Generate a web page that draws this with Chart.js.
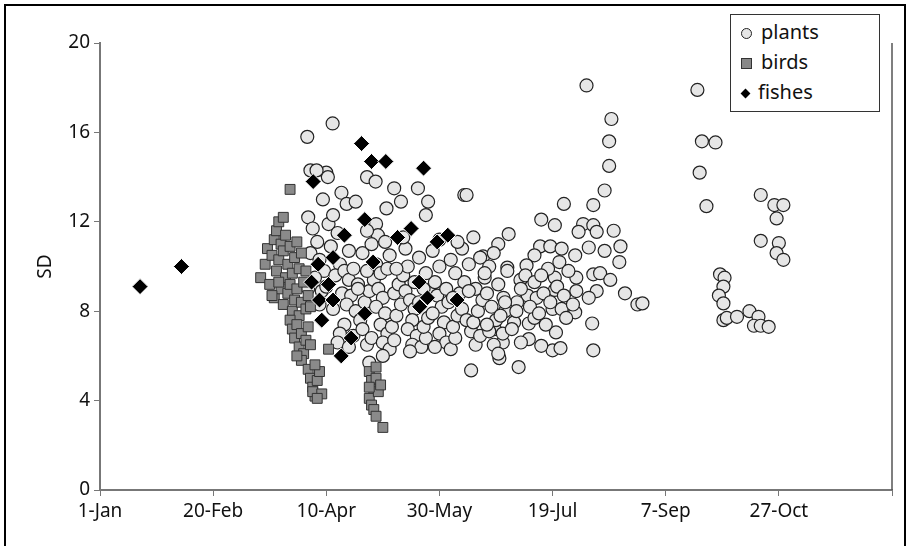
<!DOCTYPE html>
<html>
<head>
<meta charset="utf-8">
<script src="https://cdn.jsdelivr.net/npm/chart.js@4/dist/chart.umd.min.js"></script>
<style>
  body { margin: 0; background: #fff; }
  #wrap { position: relative; width: 912px; height: 546px; }
  #frame { position: absolute; left: 4px; top: 4px; width: 902px; height: 560px; border: 2px solid #000; box-sizing: border-box; pointer-events: none; }
  #legend { position: absolute; left: 730px; top: 14px; width: 150px; border: 1px solid #333; background: #fff;
    font-family: 'Noto Sans', sans-serif; font-size: 20px; color: #111; padding: 2px 0 4px 10px; box-sizing: border-box; }
  #legend div { height: 30px; line-height: 30px; }
  .mk { display: inline-block; vertical-align: middle; margin-right: 9px; }
</style>
</head>
<body>
<div id="wrap">
  <canvas id="chart" width="912" height="546"></canvas>
  <div id="frame"></div>
  <div id="legend">
    <div><span class="mk" style="width:9px;height:9px;border-radius:50%;background:#e6e6e6;border:1px solid #222"></span>plants</div>
    <div><span class="mk" style="width:9px;height:9px;background:#888;border:1px solid #333"></span>birds</div>
    <div><span class="mk" style="width:7px;height:7px;background:#000;transform:rotate(45deg);margin-left:1px"></span>fishes</div>
  </div>
</div>
<script>
// day of year (0 = 1 Jan), SD
var xTickLabels = ['1-Jan', '20-Feb', '10-Apr', '30-May', '19-Jul', '7-Sep', '27-Oct', '']

var fishes = [
  [17.7, 9.1], [36, 10.0], [115.6, 15.5], [120, 14.7], [126.3, 14.7], [143, 14.4], [94.2, 13.8],
  [117, 12.1], [137.5, 11.7], [108, 11.4], [131.5, 11.3], [149, 11.1], [153.7, 11.4], [103, 10.4],
  [120.7, 10.2], [96.4, 10.1], [93.5, 9.3], [101, 9.2], [141, 9.3], [97, 8.5], [103, 8.5],
  [144.7, 8.6], [157.8, 8.5], [141.3, 8.2], [117, 7.9], [98, 7.6], [111, 6.8], [106.6, 6.0]
]

var birds = [
  [84, 13.45], [71, 9.5], [73, 10.1], [74, 10.8], [75, 9.2], [76, 10.5], [77, 11.2], [77, 8.6],
  [78, 9.8], [78, 11.6], [79, 12.0], [79, 10.3], [80, 9.0], [80, 11.0], [81, 8.3], [81, 10.7],
  [82, 9.5], [82, 11.4], [83, 8.8], [83, 10.1], [84, 9.2], [84, 10.9], [85, 8.0], [85, 9.7],
  [86, 10.4], [86, 8.5], [87, 9.0], [87, 11.1], [88, 7.8], [88, 9.9], [89, 8.4], [89, 10.6],
  [90, 9.3], [91, 8.1], [91, 9.8], [92, 8.7], [93, 8.2], [81, 12.2], [76, 8.7], [79, 9.3],
  [84, 7.6], [85, 7.2], [86, 6.8], [87, 7.4], [88, 6.4], [89, 7.0], [90, 6.1], [91, 6.7],
  [89, 5.8], [92, 7.3], [93, 6.5], [87, 6.0], [101, 6.3],
  [92, 5.4], [93, 5.0], [94, 4.6], [95, 4.2], [96, 4.9], [94, 4.4], [97, 5.3], [95, 5.6], [98, 4.3], [96, 4.1],
  [119, 5.3], [120, 4.9], [121, 4.5], [119, 4.1], [122, 5.0], [120, 3.8], [121, 3.6], [123, 4.4],
  [122, 5.5], [124, 4.7], [119, 4.6], [122, 3.3], [125, 2.8]
]

var plants = [
  [102.8, 16.4], [91.6, 15.8], [93, 14.3], [100, 14.2], [118, 14.0], [121.8, 13.8], [130, 13.5],
  [140.5, 13.5], [161, 13.2], [106.7, 13.3], [145, 12.9], [133, 12.9], [126.6, 12.6], [144, 12.3],
  [98.5, 13.0], [109, 12.8], [122, 11.9], [122.8, 11.4], [100.7, 14.0], [95.7, 14.3],
  [215, 18.1], [264, 17.9], [226, 16.6], [225, 15.6], [225, 14.5], [223, 13.4], [266, 15.6],
  [272, 15.55], [265, 14.2], [268, 12.7], [292, 13.2], [298, 12.75], [302, 12.75], [299, 12.15],
  [292, 11.15], [300, 11.05], [299, 10.6], [302, 10.3], [274, 9.65], [276, 9.5], [275.5, 9.1],
  [273.5, 8.7], [275.5, 8.35], [275.5, 7.6], [277, 7.7], [281.5, 7.75], [287, 8.0], [291, 7.75],
  [289, 7.35], [292, 7.35], [295.5, 7.3], [232, 8.8], [237.5, 8.3], [239.7, 8.35], [218, 6.25],
  [217.5, 7.45], [185, 5.5], [176.5, 5.9], [205, 12.8], [218, 12.75], [195, 12.1], [180.6, 11.45],
  [176, 11.0], [230, 10.9], [229.5, 10.2], [223, 10.7], [216, 10.85], [210, 10.5], [201, 11.85],
  [213.5, 11.9], [218, 11.85], [219.5, 11.55], [227, 11.6], [211.5, 11.55], [194.5, 10.9],
  [199, 10.9], [204, 10.8], [192, 10.5], [188.5, 10.05], [180, 9.95], [203, 10.2], [201, 9.5],
  [210.5, 9.5], [218, 9.65], [221, 9.7], [225.5, 9.4], [219.5, 8.9], [216, 8.6], [210.5, 8.9],
  [201, 8.95], [200, 8.1], [204, 8.1], [210, 7.95], [201.5, 7.05], [200, 6.25], [203.5, 6.35],
  [195, 6.45], [189.5, 7.45], [189.5, 6.75], [186, 6.6], [178, 6.6], [169.3, 10.45], [189, 8.7],
  [184.3, 8.4], [178.3, 8.6], [185.8, 9.4], [193, 8.6], [183, 7.5], [179, 8.0], [174.5, 7.2],
  [192, 7.7],
  [92, 12.2], [94, 11.7], [96, 11.1], [93, 10.6], [97, 10.3], [99, 9.8], [95, 9.5], [92, 9.0],
  [98, 8.9], [101, 11.9], [103, 12.3], [105, 11.5], [102, 10.9], [106, 10.1], [104, 9.6], [100, 9.1],
  [107, 8.8], [97, 8.3], [103, 8.1], [108, 9.8], [110, 9.4], [112, 9.9], [114, 9.2], [111, 8.7],
  [109, 8.3], [113, 8.0], [115, 7.6], [108, 7.4], [106, 7.0], [105, 6.6], [110, 6.4], [112, 6.9],
  [116, 7.2], [118, 6.5], [120, 6.8], [117, 8.4], [119, 8.9], [121, 9.4], [118, 9.8], [122, 10.1],
  [124, 9.7], [123, 9.0], [125, 8.6], [122, 8.2], [126, 7.9], [124, 7.4], [127, 7.0], [125, 6.6],
  [128, 6.3], [130, 6.7], [129, 7.3], [131, 7.8], [133, 8.3], [130, 8.8], [132, 9.2], [134, 9.6],
  [136, 10.0], [135, 8.9], [137, 8.5], [139, 8.1], [138, 7.6], [136, 7.2], [140, 6.9], [138, 6.5],
  [142, 6.4], [144, 6.8], [143, 7.3], [145, 7.7], [141, 8.4], [146, 8.9], [148, 9.3], [144, 9.7],
  [150, 10.0], [149, 8.7], [151, 8.2], [147, 7.9], [152, 7.5], [150, 7.0], [153, 6.6], [155, 6.3],
  [157, 6.8], [156, 7.3], [158, 7.8], [154, 8.4], [159, 8.8], [161, 9.3], [157, 9.7], [163, 10.1],
  [160, 8.1], [162, 7.6], [164, 7.1], [166, 6.5], [168, 6.9], [165, 7.5], [167, 8.0], [169, 8.5],
  [166, 9.0], [170, 9.5], [172, 10.0], [171, 8.8], [173, 8.2], [175, 7.6], [172, 7.1], [174, 6.5],
  [176, 6.1], [178, 7.0], [177, 7.8], [179, 8.4], [176, 9.2], [180, 9.8], [116, 10.6], [120, 11.0],
  [128, 10.5], [135, 10.8], [141, 10.4], [147, 10.7], [155, 10.3], [160, 10.8], [168, 10.4],
  [174, 10.6], [165, 11.3], [158, 11.1], [150, 11.2], [126, 11.1], [110, 10.7], [113, 12.9],
  [118, 11.6], [134, 11.3], [162, 13.2], [170, 9.7], [153, 9.0], [148, 6.4], [137, 6.2], [125, 6.0],
  [164, 5.35], [119, 5.7], [114, 9.0], [127, 9.9], [131, 9.9], [139, 9.3], [143, 9.0], [156, 8.6],
  [163, 8.9], [171, 7.4], [182, 7.2], [184, 8.0], [186, 9.0], [188, 9.6], [190, 8.2], [192, 9.3],
  [194, 7.9], [196, 8.8], [198, 9.9], [197, 7.4], [195, 9.6], [199, 8.4], [202, 9.1], [205, 8.7],
  [207, 9.8], [206, 7.7], [209, 8.3]
]

function toPoints (pairs) {
  return pairs.map(function (p) { return {x: p[0], y: p[1]} })
}

var edgeLine = {
  id: 'edgeLine',
  afterDraw: function (chart) {
    var a = chart.chartArea, ctx = chart.ctx
    ctx.save()
    ctx.strokeStyle = '#555'
    ctx.lineWidth = 1.5
    ctx.beginPath()
    ctx.moveTo(a.right, a.top)
    ctx.lineTo(a.right, a.bottom)
    ctx.stroke()
    ctx.restore()
  }
}

var font = {family: "'Noto Sans', sans-serif", size: 19}

new Chart(document.getElementById('chart').getContext('2d'), {
  type: 'scatter',
  data: {
    datasets: [
      {label: 'plants', order: 3, data: toPoints(plants), pointStyle: 'circle', pointRadius: 6.5,
        backgroundColor: '#e6e6e6', borderColor: '#222', borderWidth: 1.2},
      {label: 'birds', order: 2, data: toPoints(birds), pointStyle: 'rect', pointRadius: 7,
        backgroundColor: '#8a8a8a', borderColor: '#333', borderWidth: 1},
      {label: 'fishes', order: 1, data: toPoints(fishes), pointStyle: 'rectRot', pointRadius: 8,
        backgroundColor: '#000', borderColor: '#fff', borderWidth: 1}
    ]
  },
  options: {
    responsive: false,
    animation: false,
    layout: {padding: {top: 43, right: 20, left: 30, bottom: 0}},
    plugins: {legend: {display: false}, tooltip: {enabled: false}},
    scales: {
      x: {
        type: 'linear', min: 0, max: 350,
        afterFit: function (s) { s.height = 56 },
        ticks: {stepSize: 50, color: '#111', font: font, padding: 4, maxRotation: 0,
          callback: function (v) { return xTickLabels[v / 50] }},
        grid: {drawOnChartArea: false, tickLength: 6, color: '#777'},
        border: {color: '#777', width: 2}
      },
      y: {
        min: 0, max: 20,
        afterFit: function (s) { s.width = 70 },
        ticks: {stepSize: 4, color: '#111', font: font, padding: 4},
        grid: {drawOnChartArea: false, tickLength: 6, color: '#777'},
        border: {color: '#777', width: 2},
        title: {display: true, text: 'SD', color: '#111', font: font, padding: 4}
      }
    }
  },
  plugins: [edgeLine]
})
</script>
</body>
</html>
